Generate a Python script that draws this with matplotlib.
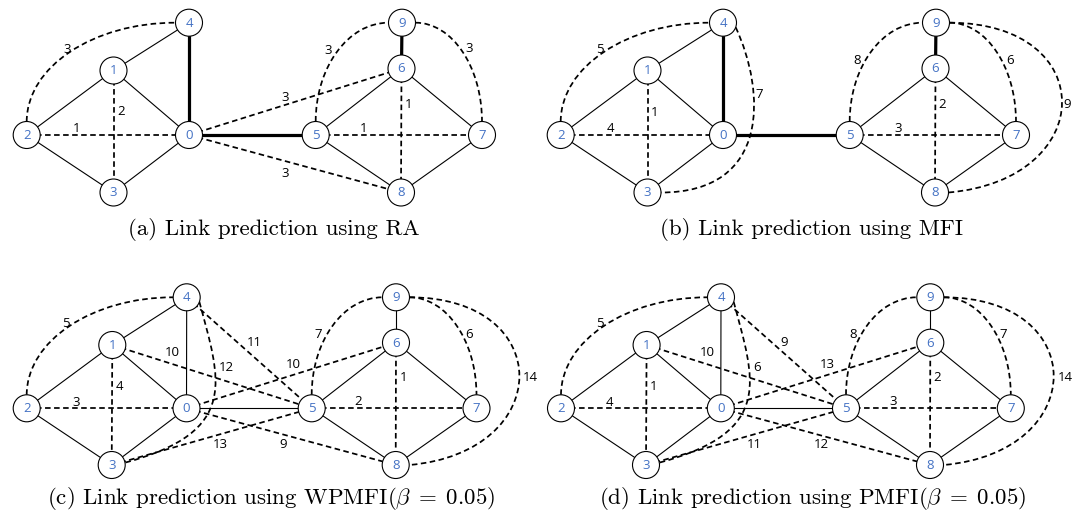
"""Four link-prediction example graphs (RA, MFI, WPMFI, PMFI) drawn in pixel space."""
import numpy as np
import matplotlib
matplotlib.use("Agg")
import matplotlib.pyplot as plt
from matplotlib.patches import Circle, PathPatch
from matplotlib.path import Path

W, H = 1083, 520

# node centres for nodes 0..9, top row and bottom row
NODE_X_TOP = [189.0, 113.5, 26.7, 113.5, 189.0, 315.7, 401.5, 482.0, 401.0, 402.0]
NODE_Y_TOP = [135.0, 70.5, 135.0, 192.5, 22.7, 135.0, 68.5, 135.0, 192.5, 22.7]
NODE_X_BOT = [186.5, 112.3, 26.7, 111.7, 186.7, 311.7, 396.0, 476.5, 395.7, 396.0]
NODE_Y_BOT = [408.3, 345.0, 408.3, 465.0, 297.3, 408.3, 342.7, 408.3, 465.0, 297.3]
PANEL_DX = [0.0, 534.0, 0.0, 534.3]

# observed graph
BASE_EDGES = [(1, 4), (1, 2), (1, 0), (2, 3), (3, 0), (4, 0), (0, 5),
              (5, 6), (6, 7), (5, 8), (8, 7), (9, 6)]
STRONG_EDGES = [(4, 0), (0, 5), (9, 6)]   # bold in (a) and (b)

# predicted links: (u, v, rank)
PRED_A = [(2, 4, 3), (1, 3, 2), (2, 0, 1), (0, 6, 3), (0, 8, 3),
          (5, 9, 3), (9, 7, 3), (6, 8, 1), (5, 7, 1)]
PRED_B = [(2, 4, 5), (1, 3, 1), (2, 0, 4), (4, 3, 7), (5, 9, 8),
          (9, 7, 6), (9, 8, 9), (6, 8, 2), (5, 7, 3)]
PRED_C = [(2, 4, 5), (1, 3, 4), (2, 0, 3), (1, 5, 10), (4, 3, 12), (4, 5, 11),
          (3, 5, 13), (0, 8, 9), (0, 6, 10), (5, 9, 7), (9, 7, 6), (6, 8, 1),
          (5, 7, 2), (9, 8, 14)]
PRED_D = [(2, 4, 5), (1, 3, 1), (2, 0, 4), (1, 5, 10), (4, 3, 6), (4, 5, 9),
          (3, 5, 11), (0, 8, 12), (0, 6, 13), (5, 9, 8), (9, 7, 7), (6, 8, 2),
          (5, 7, 3), (9, 8, 14)]

# where each rank label sits (relative to the panel's x offset)
LABEL_XY_A = [(66.7, 49.3), (120.7, 111.7), (76.7, 128.3), (285, 97.3), (285, 173.3),
              (328.3, 50.7), (469.3, 49), (408.3, 104), (364, 128.3)]
LABEL_XY_B = [(66.3, 49.3), (121, 112.7), (76, 128.3), (225.3, 95), (322.7, 61),
              (476, 61), (533, 104), (408, 104), (364.3, 128.3)]
LABEL_XY_C = [(66, 323.3), (119, 386), (75.7, 402.3), (172.7, 352.3), (226.7, 367.3),
              (254, 342.7), (220, 445), (283.3, 445), (293.3, 364.3), (318.3, 335),
              (469.3, 335), (403.3, 377.3), (358.3, 401.7), (530, 377.3)]
LABEL_XY_D = [(66, 323.3), (119, 386), (75, 402.3), (172.7, 352.3), (222.7, 367.3),
              (250, 342.7), (220, 445), (286.7, 445), (292.7, 364.3), (318.4, 335),
              (469.4, 335), (402.7, 377.3), (359, 401.7), (530.7, 377.3)]

CAPTIONS = ["(a) Link prediction using RA",
            "(b) Link prediction using MFI",
            r"(c) Link prediction using WPMFI$(\beta\;{=}\;0.05)$",
            r"(d) Link prediction using PMFI$(\beta\;{=}\;0.05)$"]
CAPTION_X = [274, 278, 271, 278.7]
CAPTION_Y = [235, 235, 504, 504]

# curve shapes: quarter arcs (exit angle at u, entry angle at v)
ARCS = {(2, 4): (90, 180), (5, 9): (90, 180), (9, 7): (0, 90)}
# loops: (attach angle u, tangent u, handle u, attach angle v, tangent v, handle v)
LOOPS_TOP = {(4, 3): (-20, -65, 70, 0, 0, 110), (9, 8): (0, 0, 151, 0, 5, 151)}
LOOPS_BOT = {(4, 3): (-20, -75, 80, 10, 15, 120), (9, 8): (0, 0, 147, 0, 5, 147)}

R = 13.5
BLUE = "#4472C4"
DASH = (0, (3.2, 2.0))
LW_DASH, LW_THIN, LW_BOLD = 1.25, 0.8, 2.3

plt.rcParams["mathtext.fontset"] = "cm"


def unit(ang):
    a = np.radians(ang)
    return np.array([np.cos(a), -np.sin(a)])   # y axis points down


def draw_bezier(ax, pts):
    path = Path(pts, [Path.MOVETO, Path.CURVE4, Path.CURVE4, Path.CURVE4])
    ax.add_patch(PathPatch(path, fill=False, ec="k", lw=LW_DASH, ls=DASH, zorder=2))


def draw_arc(ax, pu, pv, angs):
    du, dv = unit(angs[0]), unit(angs[1])
    p0, p3 = pu + R * du, pv + R * dv
    # corner where the two tangents meet
    t = np.linalg.solve(np.column_stack([du, -dv]), p3 - p0)
    c = p0 + t[0] * du
    k = 0.5523
    draw_bezier(ax, [p0, p0 + k * (c - p0), p3 + k * (c - p3), p3])


def draw_loop(ax, pu, pv, spec):
    au, tu, lu, av, tv, lv = spec
    p0, p3 = pu + R * unit(au), pv + R * unit(av)
    draw_bezier(ax, [p0, p0 + lu * unit(tu), p3 + lv * unit(tv), p3])


def draw_panel(ax, idx, pred, label_xy, bold):
    top = idx < 2
    xs = np.array(NODE_X_TOP if top else NODE_X_BOT) + PANEL_DX[idx]
    ys = np.array(NODE_Y_TOP if top else NODE_Y_BOT)
    pos = np.column_stack([xs, ys])
    loops = LOOPS_TOP if top else LOOPS_BOT

    for u, v in BASE_EDGES:
        lw = LW_BOLD if (bold and (u, v) in STRONG_EDGES) else LW_THIN
        ax.plot(xs[[u, v]], ys[[u, v]], color="k", lw=lw, zorder=1,
                solid_capstyle="butt")

    for (u, v, rank), (lx, ly) in zip(pred, label_xy):
        if (u, v) in ARCS:
            draw_arc(ax, pos[u], pos[v], ARCS[(u, v)])
        elif (u, v) in loops:
            draw_loop(ax, pos[u], pos[v], loops[(u, v)])
        else:
            ax.plot(xs[[u, v]], ys[[u, v]], color="k", lw=LW_DASH, ls=DASH, zorder=2)
        ax.text(lx + PANEL_DX[idx], ly, str(rank), fontsize=9.5, family="Open Sans",
                ha="center", va="center", zorder=5)

    for n in range(10):
        ax.add_patch(Circle(pos[n], R, fc="white", ec="k", lw=0.8, zorder=3))
        ax.text(xs[n], ys[n] + 0.5, str(n), color=BLUE, fontsize=9.5,
                family="Open Sans", ha="center", va="center", zorder=4)

    ax.text(CAPTION_X[idx] + PANEL_DX[idx], CAPTION_Y[idx], CAPTIONS[idx],
            family="cmr10", fontsize=16.5, ha="center", va="baseline")


def main():
    fig = plt.figure(figsize=(W / 100, H / 100), dpi=100)
    ax = fig.add_axes([0, 0, 1, 1])
    ax.set_xlim(0, W)
    ax.set_ylim(H, 0)
    ax.axis("off")

    draw_panel(ax, 0, PRED_A, LABEL_XY_A, True)
    draw_panel(ax, 1, PRED_B, LABEL_XY_B, True)
    draw_panel(ax, 2, PRED_C, LABEL_XY_C, False)
    draw_panel(ax, 3, PRED_D, LABEL_XY_D, False)

    fig.savefig("out.png", dpi=100)


if __name__ == "__main__":
    main()
